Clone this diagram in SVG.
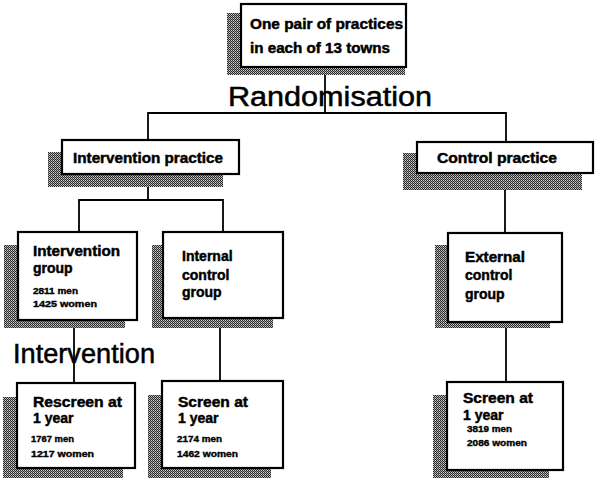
<svg xmlns="http://www.w3.org/2000/svg" width="595" height="487" viewBox="0 0 595 487">
  <defs>
    <!-- halftone fill used for the drop shadows -->
    <pattern id="dots" width="2" height="2" patternUnits="userSpaceOnUse">
      <rect width="2" height="2" fill="#2a2a2a"/>
      <rect x="1" y="0" width="1" height="1" fill="#d0d0d0"/>
      <rect x="0" y="1" width="1" height="1" fill="#9a9a9a"/>
    </pattern>
  </defs>
  <style>
    .shadow { fill: url(#dots); stroke: none; }
    .box { fill: #ffffff; stroke: #000; stroke-width: 2.2; }
    .lbl { font-family: "Liberation Sans", Arial, sans-serif; font-weight: bold; font-size: 14px; fill: #000; stroke: #000; stroke-width: 0.45; }
    .num { font-family: "Liberation Sans", Arial, sans-serif; font-weight: bold; font-size: 8.5px; fill: #000; stroke: #000; stroke-width: 0.35; }
    .big { font-family: "Liberation Sans", Arial, sans-serif; font-size: 27px; fill: #000; stroke: #000; stroke-width: 0.5; }
    .conn { fill: none; stroke: #000; stroke-width: 1.8; }
  </style>
  <rect width="595" height="487" fill="#ffffff"/>

  <!-- connectors -->
  <g id="connectors" class="conn">
    <path d="M325 68 V113"/>
    <path d="M148 140 V113 H506 V142"/>
    <path d="M148 174 V200"/>
    <path d="M79 232 V200 H223 V232"/>
    <path d="M505 173 V233"/>
    <path d="M74 320 V383"/>
    <path d="M220 318 V381"/>
    <path d="M506 322 V382"/>
  </g>

  <g id="top">
    <rect class="shadow" x="227" y="13" width="178" height="62"/>
    <rect class="box" x="241" y="4" width="165" height="63"/>
    <text class="lbl" x="250" y="29" textLength="153" lengthAdjust="spacingAndGlyphs">One pair of practices</text>
    <text class="lbl" x="250" y="53" textLength="140" lengthAdjust="spacingAndGlyphs">in each of 13 towns</text>
  </g>

  <text class="big" x="228" y="106" textLength="204" lengthAdjust="spacingAndGlyphs">Randomisation</text>

  <g id="intervention-practice">
    <rect class="shadow" x="48" y="152" width="175" height="35"/>
    <rect class="box" x="62" y="140" width="177" height="34"/>
    <text class="lbl" x="73" y="163" textLength="150" lengthAdjust="spacingAndGlyphs">Intervention practice</text>
  </g>

  <g id="control-practice">
    <rect class="shadow" x="403" y="153" width="179" height="37"/>
    <rect class="box" x="417" y="142" width="176" height="31"/>
    <text class="lbl" x="437" y="163" textLength="120" lengthAdjust="spacingAndGlyphs">Control practice</text>
  </g>

  <g id="intervention-group">
    <rect class="shadow" x="4" y="245" width="121" height="83"/>
    <rect class="box" x="18" y="232" width="119" height="88"/>
    <text class="lbl" x="33" y="256" textLength="87" lengthAdjust="spacingAndGlyphs">Intervention</text>
    <text class="lbl" x="33" y="273">group</text>
    <text class="num" x="33" y="294" textLength="45" lengthAdjust="spacingAndGlyphs">2811 men</text>
    <text class="num" x="33" y="307" textLength="64" lengthAdjust="spacingAndGlyphs">1425 women</text>
  </g>

  <g id="internal-control-group">
    <rect class="shadow" x="152" y="245" width="121" height="83"/>
    <rect class="box" x="163" y="232" width="120" height="86"/>
    <text class="lbl" x="182" y="261">Internal</text>
    <text class="lbl" x="182" y="280">control</text>
    <text class="lbl" x="182" y="297">group</text>
  </g>

  <g id="external-control-group">
    <rect class="shadow" x="435" y="245" width="115" height="83"/>
    <rect class="box" x="448" y="233" width="114" height="89"/>
    <text class="lbl" x="465" y="262" textLength="60" lengthAdjust="spacingAndGlyphs">External</text>
    <text class="lbl" x="465" y="280">control</text>
    <text class="lbl" x="465" y="299">group</text>
  </g>

  <text class="big" x="13" y="363" textLength="142" lengthAdjust="spacingAndGlyphs">Intervention</text>

  <g id="rescreen">
    <rect class="shadow" x="3" y="397" width="120" height="81"/>
    <rect class="box" x="17" y="383" width="118" height="85"/>
    <text class="lbl" x="33" y="407" textLength="89" lengthAdjust="spacingAndGlyphs">Rescreen at</text>
    <text class="lbl" x="33" y="423">1 year</text>
    <text class="num" x="31" y="442" textLength="43" lengthAdjust="spacingAndGlyphs">1767 men</text>
    <text class="num" x="31" y="457" textLength="63" lengthAdjust="spacingAndGlyphs">1217 women</text>
  </g>

  <g id="screen-internal">
    <rect class="shadow" x="148" y="395" width="123" height="83"/>
    <rect class="box" x="162" y="381" width="121" height="87"/>
    <text class="lbl" x="178" y="407" textLength="70" lengthAdjust="spacingAndGlyphs">Screen at</text>
    <text class="lbl" x="178" y="423">1 year</text>
    <text class="num" x="177" y="442" textLength="45" lengthAdjust="spacingAndGlyphs">2174 men</text>
    <text class="num" x="177" y="457" textLength="61" lengthAdjust="spacingAndGlyphs">1462 women</text>
  </g>

  <g id="screen-external">
    <rect class="shadow" x="433" y="395" width="116" height="83"/>
    <rect class="box" x="447" y="382" width="116" height="88"/>
    <text class="lbl" x="463" y="403" textLength="70" lengthAdjust="spacingAndGlyphs">Screen at</text>
    <text class="lbl" x="463" y="420">1 year</text>
    <text class="num" x="467" y="432" textLength="45" lengthAdjust="spacingAndGlyphs">3819 men</text>
    <text class="num" x="467" y="446" textLength="60" lengthAdjust="spacingAndGlyphs">2086 women</text>
  </g>
</svg>
